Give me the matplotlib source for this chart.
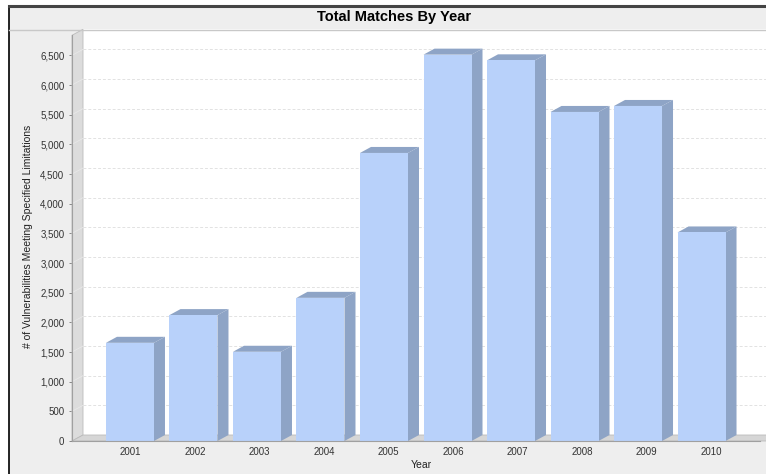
import matplotlib
matplotlib.use("Agg")
import matplotlib.pyplot as plt
import numpy as np
from matplotlib.patches import Polygon, Rectangle
from matplotlib.lines import Line2D
from matplotlib.ticker import FuncFormatter

plt.rcParams['font.family'] = ['Liberation Sans', 'DejaVu Sans']

years = ["2001", "2002", "2003", "2004", "2005", "2006", "2007", "2008", "2009", "2010"]
matches = [1655, 2122, 1504, 2413, 4855, 6512, 6416, 5546, 5647, 3515]

title = "Total Matches By Year"
xlabel = "Year"
ylabel = "# of Vulnerabilities Meeting Specified Limitations"

W, H = 766, 474
fig = plt.figure(figsize=(W / 100, H / 100), dpi=100)
fig.patch.set_facecolor("white")

def fx(px):
    return px / W

def fy(py):
    return 1 - py / H

# panel background and borders
fig.add_artist(Rectangle((fx(9), 0), 1 - fx(9), fy(6), transform=fig.transFigure,
                         facecolor="#EEEEEE", edgecolor="none", zorder=0))
fig.add_artist(Line2D([fx(9), fx(9)], [0, fy(6)], transform=fig.transFigure,
                      color="black", lw=1.2, zorder=1))
fig.add_artist(Line2D([fx(9), 1], [fy(6), fy(6)], transform=fig.transFigure,
                      color="#444444", lw=2.2, zorder=1))
fig.add_artist(Line2D([fx(9), 1], [fy(29.5), fy(29.5)], transform=fig.transFigure,
                      color="#C8C8C8", lw=1.0, zorder=1))

# front plane of the plot
left_px, right_px = 72, 759.5
bottom_px, top_px = 441, 35.3
ax = fig.add_axes([fx(left_px), fy(bottom_px), fx(right_px - left_px),
                   (bottom_px - top_px) / H])
ax.patch.set_visible(False)

n = len(years)
xmin, xmax = -0.913, n - 1 + 0.913
ymax = 6838
ax.set_xlim(xmin, xmax)
ax.set_ylim(0, ymax)

px_per_x = (right_px - left_px) / (xmax - xmin)
px_per_y = (bottom_px - top_px) / ymax
ddx = 11 / px_per_x
ddy = 6 / px_per_y

# back wall
ax.add_patch(Rectangle((xmin + ddx, ddy), (xmax - xmin), ymax, facecolor="white",
                       edgecolor="none", clip_on=False, zorder=0))
# left wall
ax.add_patch(Polygon([(xmin, 0), (xmin + ddx, ddy), (xmin + ddx, ymax + ddy), (xmin, ymax)],
                     closed=True, facecolor="#DCDCDC", edgecolor="#BBBBBB", lw=0.6,
                     clip_on=False, zorder=1))
# floor
ax.add_patch(Polygon([(xmin, 0), (xmax + ddx, 0), (xmax + 2 * ddx, ddy), (xmin + ddx, ddy)],
                     closed=True, facecolor="#D6D6D6", edgecolor="#BBBBBB", lw=0.6,
                     clip_on=False, zorder=1))

ticks = np.arange(0, 6501, 500)
for t in ticks[1:]:
    ax.plot([xmin + ddx, xmax + 2 * ddx], [t + ddy, t + ddy], color="#E2E2E2", lw=0.7,
            ls=(0, (3, 2)), clip_on=False, zorder=1)
    ax.plot([xmin, xmin + ddx], [t, t + ddy], color="#E8E8E8", lw=0.6,
            clip_on=False, zorder=2)

front_color = "#B8D1FA"
side_color = "#8EA4C6"
bw = 48 / px_per_x
xs = np.arange(n)
ax.bar(xs, matches, width=bw, color=front_color, edgecolor="none", zorder=4)
for xi, v in zip(xs, matches):
    x0, x1 = xi - bw / 2, xi + bw / 2
    ax.add_patch(Polygon([(x1, 0), (x1 + ddx, ddy), (x1 + ddx, v + ddy), (x1, v)],
                         closed=True, facecolor=side_color, edgecolor="none",
                         clip_on=False, zorder=3))
    ax.add_patch(Polygon([(x0, v), (x1, v), (x1 + ddx, v + ddy), (x0 + ddx, v + ddy)],
                         closed=True, facecolor=side_color, edgecolor="none",
                         clip_on=False, zorder=3))

for s in ["top", "right"]:
    ax.spines[s].set_visible(False)
ax.spines["left"].set_color("#A0A0A0")
ax.spines["bottom"].set_color("#A0A0A0")
ax.spines["left"].set_zorder(5)
ax.spines["bottom"].set_zorder(5)

ax.set_yticks(ticks)
ax.yaxis.set_major_formatter(FuncFormatter(lambda v, p: f"{v:,.0f}"))
ax.tick_params(axis="y", length=2.5, width=0.7, color="#888888", pad=3,
               labelsize=7, labelcolor="#333333")

label_step = 64.5 / px_per_x
label_pos = xs * label_step + 0.8 / px_per_x
ax.set_xticks(label_pos)
ax.set_xticklabels(years)
ax.tick_params(axis="x", length=0, pad=4, labelsize=7, labelcolor="#333333")

fig.text(fx(394.5), fy(17), title, ha="center", va="center", fontsize=10.5,
         fontweight="bold", color="black")
fig.text(fx(421.7), fy(465), xlabel, ha="center", va="center", fontsize=7.5,
         color="#222222")
fig.text(fx(28.3), fy(236), ylabel, ha="center", va="center", rotation=90,
         fontsize=7.5, color="#222222",
         family=['Liberation Sans Narrow', 'Liberation Sans', 'DejaVu Sans'])

fig.savefig("out.png", dpi=100, facecolor=fig.get_facecolor())
